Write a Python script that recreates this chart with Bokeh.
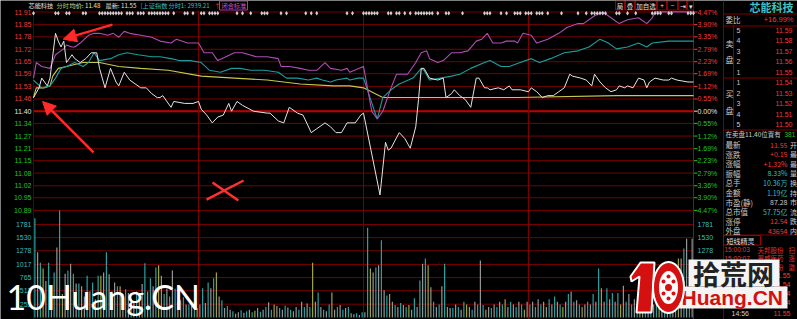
from bokeh.plotting import figure
from bokeh.models import Range1d, Arrow, NormalHead
from bokeh.embed import file_html
from bokeh.resources import INLINE
from bokeh.core.properties import value

# ---------------- data ----------------
prev_close = 11.40
pct_levels = [4.47, 3.90, 3.35, 2.79, 2.23, 1.69, 1.12, 0.55, 0.00,
              -0.55, -1.12, -1.69, -2.23, -2.79, -3.36, -3.90, -4.47]
price_labels = ["11.91", "11.85", "11.78", "11.72", "11.65", "11.59", "11.53", "11.46", "11.40",
                "11.34", "11.27", "11.21", "11.15", "11.08", "11.02", "10.95", "10.89"]
pct_labels = ["4.47%", "3.90%", "3.35%", "2.79%", "2.23%", "1.69%", "1.12%", "0.55%", "0.00%",
              "0.55%", "1.12%", "1.69%", "2.23%", "2.79%", "3.36%", "3.90%", "4.47%"]
vol_ticks = [1781, 1530, 1278, 1017, 765, 513, 255]
session_marks = [60, 120, 180]

# price (white)
price_min = [0,2,3,5,6,8,9,10,11,12,14,15,17,19,21,23,24,26,28,30,31,33,35,39,41,43,45,46,47,50,51,55,58,60,61,63,65,67,69,71,72,74,76,80,85,86,89,91,93,96,98,101,103,106,108,110,112,114,115,117,119,120,126,128,129,130,133,135,137,139,140,141,142,144,147,149,150,152,153,155,157,159,161,162,164,165,166,169,171,173,174,177,180,181,183,185,187,189,191,193,195,196,199,201,203,204,206,208,210,212,213,215,216,218,220,222,223,224,226,229,231,232,234,238,240]
price_val = [11.47,11.52,11.57,11.53,11.57,11.80,11.76,11.73,11.76,11.65,11.69,11.67,11.65,11.67,11.70,11.70,11.62,11.52,11.62,11.55,11.53,11.60,11.56,11.52,11.52,11.49,11.47,11.47,11.48,11.42,11.45,11.44,11.44,11.45,11.41,11.38,11.34,11.37,11.38,11.44,11.40,11.45,11.43,11.40,11.39,11.39,11.35,11.34,11.42,11.39,11.38,11.29,11.31,11.34,11.32,11.29,11.29,11.34,11.34,11.34,11.38,11.39,10.97,11.24,11.20,11.21,11.29,11.26,11.21,11.32,11.46,11.62,11.62,11.57,11.56,11.57,11.47,11.49,11.51,11.48,11.46,11.42,11.57,11.57,11.52,11.52,11.51,11.52,11.51,11.53,11.51,11.51,11.50,11.52,11.50,11.47,11.48,11.48,11.50,11.52,11.59,11.58,11.57,11.56,11.53,11.59,11.55,11.52,11.50,11.51,11.53,11.52,11.53,11.52,11.57,11.56,11.52,11.55,11.57,11.56,11.56,11.57,11.56,11.55,11.55]

# overlay 1 (magenta)
mag_min = [0,1,3,6,8,11,12,14,15,17,20,22,24,27,29,31,33,35,39,43,46,50,52,56,60,62,65,67,70,73,76,81,85,89,90,93,97,100,103,106,108,112,114,115,120,123,125,127,130,132,136,139,141,143,144,147,149,152,155,158,161,163,165,167,170,172,175,176,178,181,183,187,191,194,198,200,204,207,211,213,216,220,223,225,226,231,235,240]
mag_val = [11.57,11.65,11.63,11.62,11.69,11.72,11.74,11.73,11.73,11.75,11.79,11.80,11.80,11.79,11.80,11.78,11.81,11.80,11.79,11.78,11.76,11.75,11.77,11.75,11.75,11.70,11.70,11.66,11.68,11.70,11.70,11.68,11.68,11.67,11.63,11.63,11.62,11.61,11.61,11.65,11.62,11.61,11.62,11.60,11.63,11.40,11.36,11.40,11.52,11.59,11.59,11.65,11.70,11.71,11.67,11.65,11.66,11.70,11.70,11.71,11.76,11.77,11.80,11.75,11.75,11.76,11.76,11.75,11.80,11.79,11.75,11.77,11.80,11.83,11.85,11.85,11.89,11.91,11.87,11.85,11.87,11.88,11.85,11.88,11.91,11.91,11.91,11.91]

# overlay 2 (teal)
teal_min = [0,3,6,8,10,12,15,18,20,22,24,28,31,34,38,43,46,50,53,57,61,64,68,72,75,79,84,89,92,96,100,103,105,108,110,114,115,118,120,124,125,127,130,133,138,141,142,144,148,152,155,159,164,166,170,173,177,181,184,188,193,198,202,206,209,212,216,220,223,225,231,236,240]
teal_val = [11.56,11.52,11.53,11.57,11.62,11.63,11.65,11.63,11.65,11.70,11.66,11.67,11.69,11.70,11.69,11.68,11.68,11.67,11.66,11.66,11.65,11.61,11.60,11.62,11.62,11.61,11.61,11.60,11.57,11.57,11.56,11.57,11.56,11.55,11.56,11.57,11.56,11.57,11.57,11.40,11.36,11.47,11.51,11.54,11.57,11.62,11.61,11.56,11.57,11.58,11.59,11.62,11.65,11.66,11.63,11.63,11.65,11.67,11.65,11.67,11.70,11.71,11.73,11.77,11.75,11.72,11.73,11.75,11.73,11.75,11.76,11.76,11.76]

# average price (yellow)
avg_min = [0,1,4,6,7,9,12,18,24,31,39,49,61,73,85,97,109,115,120,127,131,152,176,212,240]
avg_val = [11.47,11.52,11.52,11.53,11.58,11.62,11.63,11.65,11.65,11.63,11.62,11.61,11.58,11.57,11.56,11.54,11.53,11.53,11.52,11.47,11.47,11.47,11.47,11.48,11.48]

# per-minute volume
volume = [1900,1250,1050,940,700,1050,500,860,1340,2050,450,840,900,1030,840,650,650,600,400,800,
          500,670,350,800,800,860,1250,830,500,670,600,600,450,540,470,370,300,500,400,640,
          1040,500,750,600,960,1000,800,450,550,400,900,550,300,330,390,250,250,220,300,180,
          250,560,280,670,560,750,860,400,330,180,220,150,120,70,100,140,90,120,150,100,
          130,180,110,150,200,290,150,250,220,180,150,230,190,150,120,200,150,300,200,270,
          200,1050,300,480,200,150,120,250,480,150,200,240,150,180,200,80,60,80,50,100,
          100,1720,940,860,960,1000,1480,520,420,450,300,240,200,280,240,200,240,150,370,200,
          710,1030,1130,1000,580,300,200,250,600,1030,200,180,180,250,200,150,300,250,200,150,
          300,250,1090,240,150,200,180,250,200,300,250,350,200,300,250,200,300,250,150,300,
          250,300,200,350,250,300,200,350,250,400,300,250,200,300,450,500,300,330,250,200,
          250,300,250,450,300,940,560,300,560,350,470,300,470,250,610,300,450,250,350,200,
          300,250,400,300,350,250,300,400,250,350,300,400,350,500,1130,1130,1320,1510,300,1510]

# event markers row
event_min = [0,8,9,12,13,18,19,24,25,26,27,28,29,30,31,32,34,35,36,38,39,40,42,43,44,45,46,47,48,49,51,55,56,58,61,62,64,65,66,67,74,76,79,83,84,85,90,92,99,101,103,114,116,120,121,122,123,124,125,129,130,132,133,135,137,139,140,141,142,143,144,145,147,150,151,156,164,165,166,170,172,175,176,177,179,180,181,183,184,185,187,192,198,201,203,204,205,206,207,208,212,213,216,219,225,226,227,228,231,232,238,239,240]

# hand-drawn annotations (minute, price)
arrow_tail_min = [28.7, 21.8]
arrow_tail_price = [11.845, 11.188]
arrow_head_min = [10.8, 3.3]
arrow_head_price = [11.77, 11.45]
cross_x0 = [62.9, 65.1]
cross_y0 = [10.946, 11.034]
cross_x1 = [76.4, 74.5]
cross_y1 = [11.044, 10.941]

# quote panel
sell_levels = ["5", "4", "3", "2", "1"]
sell_prices = ["11.59", "11.58", "11.57", "11.56", "11.55"]
buy_levels = ["1", "2", "3", "4", "5"]
buy_prices = ["11.54", "11.53", "11.52", "11.51", "11.50"]
stat_labels = ["最新", "涨跌", "涨幅", "振幅", "总手", "金额", "市盈(静)", "总市值", "涨停", "外盘"]
stat_values = ["11.55", "+0.15", "+1.32%", "8.33%", "10.36万", "1.19亿", "87.28", "57.75亿", "12.54", "43654"]
stat_kind = ["up", "up", "up", "info", "info", "info", "plain", "info", "up", "up"]
stat_tail = ["开", "最", "最", "量", "换", "持", "市", "流", "跌", "内"]

# ---------------- figure ----------------
W, H = 797, 319
s_px = 0.005137          # price per pixel
y_top = prev_close + 110.7 * s_px
y_bot = prev_close - (H - 110.7) * s_px
p = figure(width=W, height=H, x_range=Range1d(-12, 277.818), y_range=Range1d(y_bot, y_top),
           toolbar_location=None, output_backend="svg", x_axis_type=None, y_axis_type=None,
           min_border=0, min_border_left=0, min_border_right=0, min_border_top=0, min_border_bottom=0,
           background_fill_color="black", border_fill_color="black", outline_line_color=None)
p.extra_x_ranges = {"px": Range1d(0, W)}
p.extra_y_ranges = {"px": Range1d(H, 0), "vol": Range1d(-38.3, 6072.8)}

CJK = "Noto Sans CJK SC"
NUM = "Liberation Sans"
RED = "#f03a3a"
GREEN = "#22c422"
WHITE = "#e0e0e0"
CYAN = "#3cbcbc"
GRID = "#7a0000"


def txt(x, y, s, color, size=7.0, align="left", font=CJK, style="normal",
        xr="px", yr="px", baseline="middle"):
    if isinstance(s, str):
        x, y, s = [x], [y], [s]
    p.text(x=x, y=y, text=s, text_color=color, text_font=value(font),
           text_font_size=value(f"{size}px"), text_align=align, text_baseline=baseline,
           text_font_style=style, x_range_name=xr, y_range_name=yr)


grid_prices = [prev_close * (1 + q / 100) for q in pct_levels]
n = len(grid_prices)

# horizontal price grid
p.segment(x0=[0] * n, x1=[240] * n, y0=grid_prices, y1=grid_prices, line_color=GRID, line_width=1)
p.segment(x0=[0], x1=[240], y0=[prev_close], y1=[prev_close], line_color="#c00000", line_width=2)
# volume grid
p.segment(x0=[0] * len(vol_ticks), x1=[240] * len(vol_ticks), y0=vol_ticks, y1=vol_ticks,
          line_color=GRID, line_width=1, y_range_name="vol")
# vertical grid
p.segment(x0=session_marks, x1=session_marks, y0=[10] * 3, y1=[H] * 3,
          line_color=GRID, line_width=1, y_range_name="px")
p.segment(x0=[0], x1=[0], y0=[10], y1=[H], line_color="#5a0000", line_width=1, y_range_name="px")
p.segment(x0=[240], x1=[240], y0=[0], y1=[H], line_color="#b00000", line_width=1, y_range_name="px")

# panel separators (pixel layout)
p.segment(x0=[723, 733], x1=[723, 733], y0=[0, 25], y1=[H, 129], line_color="#800000",
          line_width=1, x_range_name="px", y_range_name="px")
p.segment(x0=[723] * 4, x1=[797] * 4, y0=[13.5, 25.5, 77.5, 129.5], y1=[13.5, 25.5, 77.5, 129.5],
          line_color="#800000", line_width=1, x_range_name="px", y_range_name="px")
p.segment(x0=[723], x1=[797], y0=[234.5], y1=[234.5], line_color="#800000", line_width=1,
          x_range_name="px", y_range_name="px")

# right-axis ticks
tick_cols = [RED] * 8 + [WHITE] + [GREEN] * 8
p.segment(x0=[693.5] * n, x1=[697] * n, y0=grid_prices, y1=grid_prices, line_color=tick_cols,
          line_width=1, x_range_name="px")

# volume bars
vcols = ["#2aa8a8", "#9c9c9c", "#2aa8a8", "#a9a93e", "#9c9c9c", "#2aa8a8", "#9c9c9c"]
bar_x = [i + 0.5 for i in range(len(volume))]
bar_c = [vcols[i % len(vcols)] for i in range(len(volume))]
p.vbar(x=bar_x, top=volume, bottom=0, width=0.42, fill_color=bar_c, line_color=None, y_range_name="vol")

# price lines
p.line(avg_min, avg_val, line_color="#c8c84a", line_width=1.1)
p.line(teal_min, teal_val, line_color="#1e9c9c", line_width=1.1)
p.line(mag_min, mag_val, line_color="#b04cb4", line_width=1.1)
p.line(price_min, price_val, line_color="#e4e4e4", line_width=1.0)

# event markers
p.scatter(x=event_min, y=[12.7] * len(event_min), marker="diamond", size=4.5,
          fill_color="#cfcfcf", line_color=None, y_range_name="px")

# axis labels
lab_cols = [RED] * 8 + [WHITE] + [GREEN] * 8
txt([31] * n, grid_prices, price_labels, lab_cols, size=7, align="right", font=NUM, yr="default")
txt([697] * n, grid_prices, pct_labels, lab_cols, size=7, align="left", font=NUM, yr="default")
vl = [str(v) for v in vol_ticks]
txt([31] * len(vol_ticks), vol_ticks, vl, CYAN, size=7, align="right", font=NUM, yr="vol")
txt([697] * len(vol_ticks), vol_ticks, vl, CYAN, size=7, align="left", font=NUM, yr="vol")

# header
hdr_x = [28, 56, 69, 105, 140, 168, 214, 221]
hdr_t = ["芯能科技", "分时", "均价: 11.48", "最新: 11.55", "[上证指数", "分时1: 2939.21", "↑", "闭合标准"]
hdr_c = [WHITE, "#a8d060", "#e8e8a8", WHITE, CYAN, CYAN, RED, "#d052d0"]
txt(hdr_x, [4.8] * len(hdr_x), hdr_t, hdr_c, size=6.2)
p.quad(left=[219], right=[247], top=[0.5], bottom=[9.5], fill_color=None, line_color="#a040a0",
       x_range_name="px", y_range_name="px")

# buttons
btn_l = [615, 625, 635, 657, 667, 678, 687]
btn_r = [624, 634, 656, 666, 677, 686, 693]
btn_t = ["局", "叠", "加自选", "+", "−", "⇥", "▾"]
p.quad(left=btn_l, right=btn_r, top=[0.5] * 7, bottom=[9.5] * 7, fill_color="black",
       line_color="#900000", x_range_name="px", y_range_name="px")
txt([(a + b) / 2 for a, b in zip(btn_l, btn_r)], [5] * 7, btn_t, WHITE, size=6.5, align="center")

# quote panel
txt(793, 6, "芯能科技", "#3cc4c4", size=11, align="right", style="bold")
txt(725, 19, "委比", "#c8c8c8", size=7.5)
txt(793, 19, "+16.99%", RED, size=7.5, align="right", font=NUM)
txt([725, 725], [43, 59], ["卖", "盘"], "#c8c8c8", size=8)
txt([725, 725], [93, 110], ["买", "盘"], "#c8c8c8", size=8)
sell_y = [29.5, 40, 50.5, 61, 71.5]
buy_y = [82, 92.5, 103, 113.5, 124]
txt([736] * 5, sell_y, sell_levels, "#c8c8c8", size=7, font=NUM)
txt([792] * 5, sell_y, sell_prices, RED, size=7, align="right", font=NUM)
txt([736] * 5, buy_y, buy_levels, "#c8c8c8", size=7, font=NUM)
txt([792] * 5, buy_y, buy_prices, RED, size=7, align="right", font=NUM)
txt(725, 133.5, "在卖盘11.40位置有", "#c8c8c8", size=6.5)
txt(784, 133.5, "381", GREEN, size=6.5, font=NUM)

kind_col = {"up": RED, "info": CYAN, "plain": "#c8c8c8"}
stat_y = [144 + 9.6 * k for k in range(len(stat_labels))]
txt([725] * len(stat_labels), stat_y, stat_labels, "#c8c8c8", size=7.5)
txt([787] * len(stat_labels), stat_y, stat_values, [kind_col[k] for k in stat_kind], size=7,
    align="right", font=CJK)
txt([789.5] * len(stat_labels), stat_y, stat_tail, "#c8c8c8", size=7)

p.quad(left=[723], right=[760], top=[235], bottom=[244.5], fill_color=None, line_color="#a00000",
       x_range_name="px", y_range_name="px")
txt(726, 240, "短线精灵", "#e0e0e0", size=7)
txt([724, 724, 724], [249, 257.5, 266], ["15:00:03", "15:00:07", "15:00:09"], "#d04040", size=6.5, font=NUM)
txt([757, 757, 757], [249, 257.5, 266], ["天邦股份", "恩威医药", "天邦股份"], "#e03030", size=6.5)
txt([788, 788, 788], [249, 257.5, 266], ["扫", "涨", "激"], "#e03030", size=6.5)
txt([790] * 4, [275, 284, 293, 302], ["11.55", "11.54", "11.54", "11.54"], RED, size=7,
    align="right", font=NUM)
txt(731, 313, "14:56", "#d0d0d0", size=7, font=NUM)
txt(790, 313, "11.55", RED, size=7, align="right", font=NUM)

# annotations
for i in range(2):
    p.add_layout(Arrow(end=NormalHead(size=13, fill_color="#ff2a2a", line_color="#ff2a2a"),
                       x_start=arrow_tail_min[i], y_start=arrow_tail_price[i],
                       x_end=arrow_head_min[i], y_end=arrow_head_price[i],
                       line_color="#ff2a2a", line_width=2.5))
p.segment(x0=cross_x0, y0=cross_y0, x1=cross_x1, y1=cross_y1, line_color="#ff3030", line_width=2.5)

# watermark text
txt(6, 296, "10Huang.CN", "#ffffff", size=34, font="Lato")

# logo
p.quad(left=[688], right=[779], top=[259], bottom=[286], fill_color="#f4f4f4", line_color=None,
       x_range_name="px", y_range_name="px")
p.quad(left=[678], right=[787], top=[286], bottom=[308], fill_color="#f4f4f4", line_color=None,
       x_range_name="px", y_range_name="px")
txt(733, 272.5, "拾荒网", "#222222", size=27, align="center", style="bold")
txt(681, 297, "Huang.CN", "#d41010", size=21, font=NUM, style="bold")
p.patch(x=[630, 640, 654, 651, 636, 639, 631], y=[276, 262, 262, 312, 312, 276, 281],
        fill_color="#d41010", line_color="#ffffff", line_width=2, x_range_name="px", y_range_name="px")
p.ellipse(x=[668], y=[287], width=[31], height=[51], width_units="screen", height_units="screen",
          fill_color="#d41010", line_color="#ffffff", line_width=2, x_range_name="px", y_range_name="px")
p.ellipse(x=[668], y=[287], width=[19], height=[33], width_units="screen", height_units="screen",
          fill_color="#ffffff", line_color=None, x_range_name="px", y_range_name="px")
p.scatter(x=[668, 668, 668, 663, 673, 663, 673], y=[287, 276, 298, 281, 281, 293, 293],
          size=[7, 4, 4, 4, 4, 4, 4], marker="circle", fill_color="#d41010", line_color=None,
          x_range_name="px", y_range_name="px")

open("out.html", "w").write(file_html(p, INLINE))
